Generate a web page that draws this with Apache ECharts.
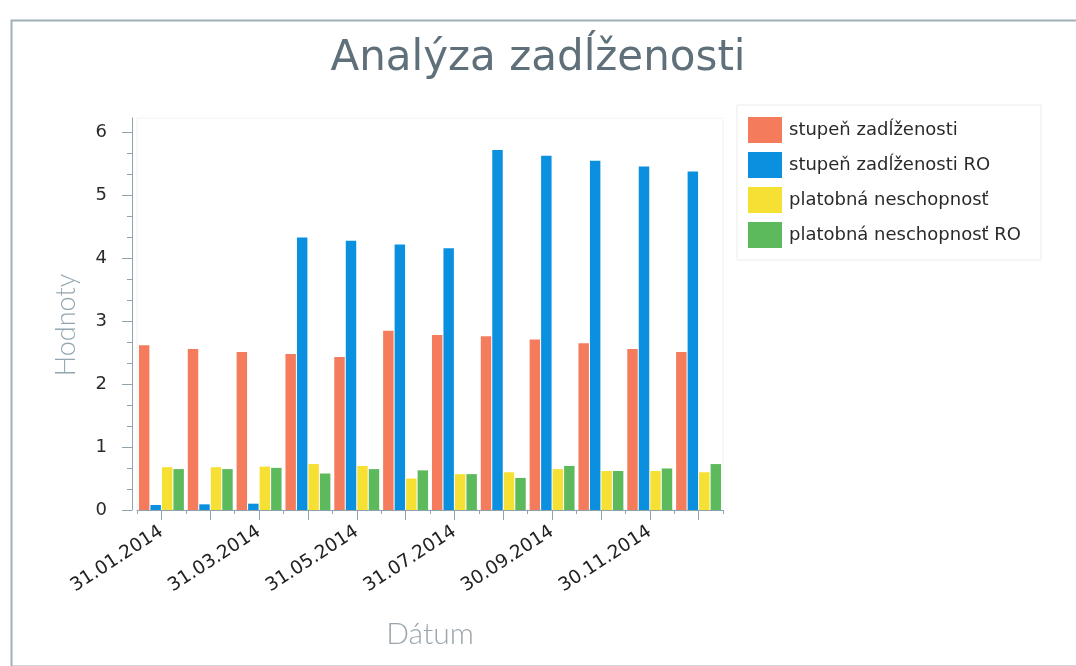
<!DOCTYPE html>
<html>
<head>
<meta charset="utf-8">
<script src="https://cdn.jsdelivr.net/npm/echarts@6/dist/echarts.min.js"></script>
<style>
  html, body { margin: 0; padding: 0; background: #fff; }
  #chart { width: 1076px; height: 666px; }
</style>
</head>
<body>
<div id="chart"></div>
<script>
// month-end dates, every other one gets a label
const dates = [
  "31.01.2014", "28.02.2014", "31.03.2014", "30.04.2014", "31.05.2014", "30.06.2014",
  "31.07.2014", "31.08.2014", "30.09.2014", "31.10.2014", "30.11.2014", "31.12.2014"
];

const stupen     = [2.62, 2.56, 2.51, 2.48, 2.43, 2.85, 2.78, 2.76, 2.71, 2.65, 2.56, 2.51];
const stupenRO   = [0.08, 0.09, 0.10, 4.33, 4.28, 4.22, 4.16, 5.72, 5.63, 5.55, 5.46, 5.38];
const platobna   = [0.68, 0.68, 0.69, 0.73, 0.70, 0.50, 0.57, 0.60, 0.65, 0.62, 0.62, 0.60];
const platobnaRO = [0.65, 0.65, 0.67, 0.58, 0.65, 0.63, 0.57, 0.51, 0.70, 0.62, 0.66, 0.73];

const seriesNames = [
  "stupeň zadĺženosti",
  "stupeň zadĺženosti RO",
  "platobná neschopnosť",
  "platobná neschopnosť RO"
];

const yMajorTicks = [0, 1, 2, 3, 4, 5, 6];
const yMinorTicks = [0.333, 0.667, 1.333, 1.667, 2.333, 2.667, 3.333, 3.667,
                     4.333, 4.667, 5.333, 5.667];

const axisColor = "#8ea3ae";
const font = "DejaVu Sans";

const chart = echarts.init(document.getElementById("chart"), null, { renderer: "canvas" });

const bar = (name, data) => ({
  name,
  type: "bar",
  data,
  barCategoryGap: "8%",
  barGap: "10%",
  emphasis: { disabled: true }
});

chart.setOption({
  animation: false,
  color: ["#f47c5c", "#0b8fdf", "#f7e034", "#5cba5c"],
  title: {
    text: "Analýza zadĺženosti",
    left: "center",
    top: 33,
    textStyle: { fontFamily: font, fontSize: 42, fontWeight: "normal", color: "#5f707a" }
  },
  legend: {
    orient: "vertical",
    left: 737,
    top: 105,
    padding: [12, 20, 12, 11],
    itemWidth: 34,
    itemHeight: 26,
    itemGap: 9,
    borderColor: "#ebebeb",
    borderWidth: 1,
    icon: "rect",
    textStyle: { fontFamily: font, fontSize: 18, color: "#2a2a2a", padding: [0, 0, 0, 2] },
    data: seriesNames
  },
  grid: { left: 137, right: 353, top: 118, bottom: 156, show: true, borderColor: "#f1f2f2", borderWidth: 1 },
  xAxis: [
    {
      type: "category",
      data: dates,
      axisLine: { show: true, lineStyle: { color: axisColor, width: 1 } },
      axisTick: { show: true, length: 4, interval: 0, lineStyle: { color: axisColor, width: 1 } },
      axisLabel: {
        interval: 1,
        rotate: 33,
        margin: 20,
        fontFamily: font,
        fontSize: 18.5,
        color: "#222"
      },
      name: "Dátum",
      nameLocation: "middle",
      nameGap: 109,
      nameTextStyle: { fontFamily: "Lato", fontWeight: 300, fontSize: 30, color: "#9aa6ad" },
      splitLine: { show: false }
    },
    {
      type: "category",
      data: dates,
      position: "bottom",
      axisLine: { show: false },
      axisTick: { show: true, length: 10, interval: 0, alignWithLabel: true, lineStyle: { color: axisColor, width: 1 } },
      axisLabel: { show: false },
      splitLine: { show: false }
    }
  ],
  yAxis: [
    {
      type: "value",
      position: "left",
      min: 0,
      max: 6.23,
      offset: 5,
      axisLine: { show: true, lineStyle: { color: axisColor, width: 1 } },
      axisTick: { show: true, length: 10, customValues: yMajorTicks, lineStyle: { color: axisColor } },
      axisLabel: {
        customValues: yMajorTicks,
        margin: 25,
        fontFamily: font,
        fontSize: 18,
        color: "#2a2a2a"
      },
      splitLine: { show: false },
      name: "Hodnoty",
      nameLocation: "middle",
      nameGap: 52,
      nameTextStyle: { fontFamily: "Lato", fontWeight: 300, fontSize: 27, color: "#93a7b2", padding: [0, 22, 0, 0] }
    },
    {
      type: "value",
      position: "left",
      min: 0,
      max: 6.23,
      offset: 5,
      axisLine: { show: false },
      axisTick: { show: true, length: 5, customValues: yMinorTicks, lineStyle: { color: axisColor } },
      axisLabel: { show: false },
      splitLine: { show: false }
    }
  ],
  graphic: [
    {
      type: "rect",
      left: 9,
      top: 18,
      shape: { width: 1090, height: 646 },
      style: { fill: null, stroke: "#9fb0b9", lineWidth: 2 },
      silent: true
    }
  ],
  series: [
    bar(seriesNames[0], stupen),
    bar(seriesNames[1], stupenRO),
    bar(seriesNames[2], platobna),
    bar(seriesNames[3], platobnaRO)
  ]
});
</script>
</body>
</html>
